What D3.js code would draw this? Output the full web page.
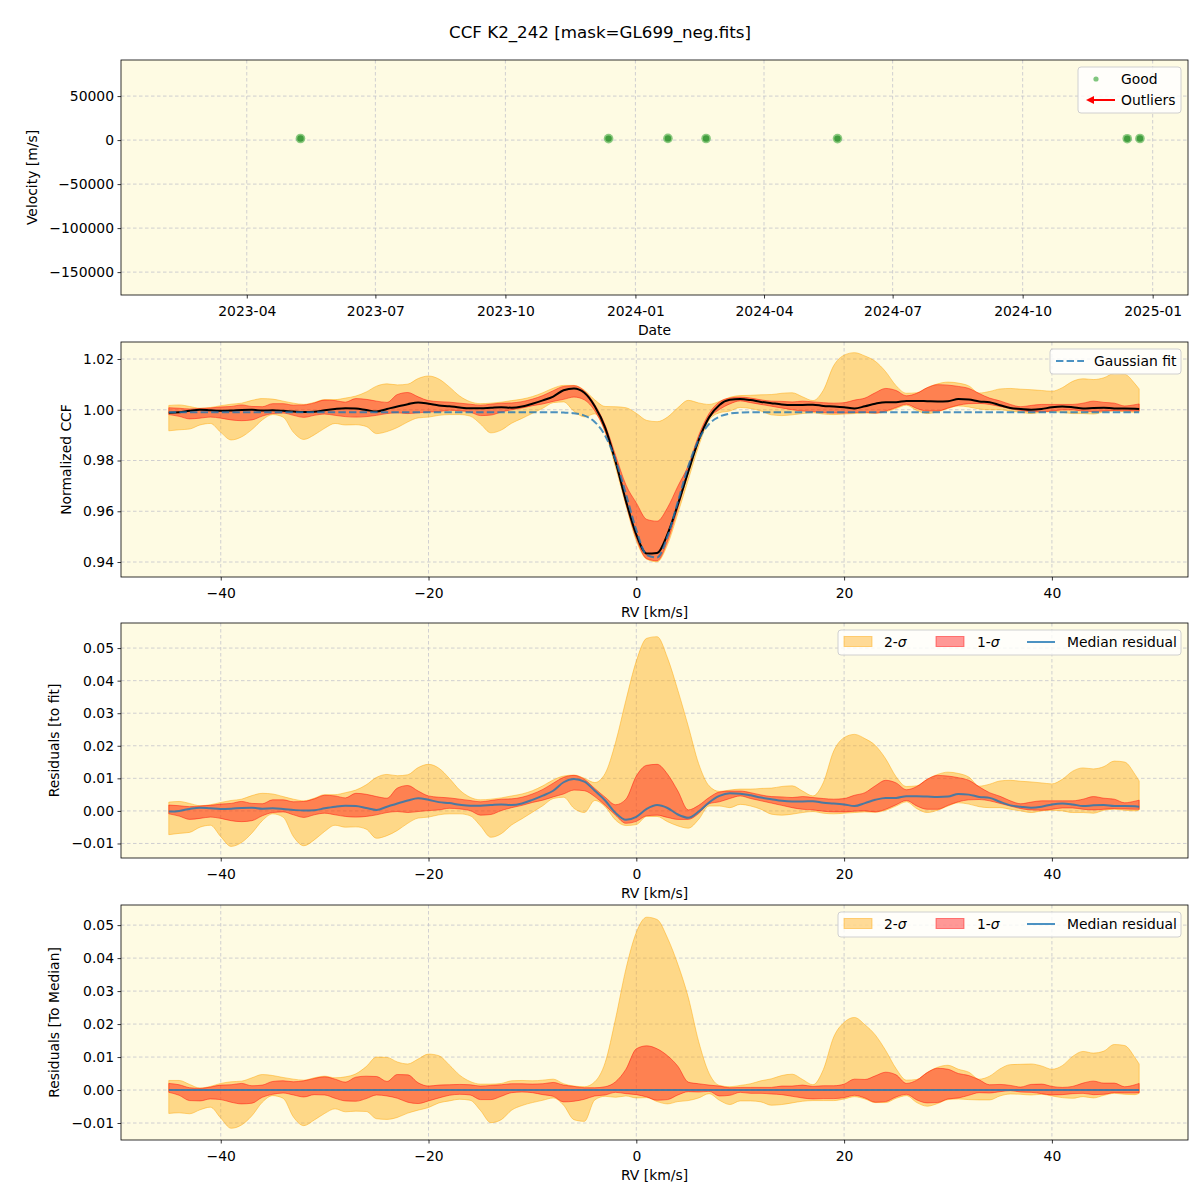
<!DOCTYPE html>
<html><head><meta charset="utf-8">
<script src="https://cdn.jsdelivr.net/npm/d3@7/dist/d3.min.js"></script>
<style>
body{margin:0;background:#fff;}
svg text{font-family:"DejaVu Sans",Verdana,sans-serif;fill:#000;}
</style></head>
<body>
<svg id="chart" width="1200" height="1200"></svg>
<script>
// ---------------- data ----------------
const obsDates = ["2023-05-09","2023-12-13","2024-01-24","2024-02-20","2024-05-23","2024-12-14","2024-12-23"];
const obsVelocity = [1800,1700,1900,1800,1700,1600,1800];
const dateTicks = ["2023-04-01","2023-07-01","2023-10-01","2024-01-01","2024-04-01","2024-07-01","2024-10-01","2025-01-01"];
const velocityTicks = [-150000,-100000,-50000,0,50000];
const rvTicks = [-40,-20,0,20,40];
const ccfTicks = [0.94,0.96,0.98,1.00,1.02];
const residTicks = [-0.01,0,0.01,0.02,0.03,0.04,0.05];

const rvGrid = [-45,-44,-43,-42,-41,-40,-39,-38,-37,-36,
 -35,-34,-33,-32,-31,-30,-29,-28,-27,-26,
 -25,-24,-23,-22,-21,-20,-19,-18,-17,-16,
 -15,-14,-13,-12,-11,-10,-9,-8,-7,-6,
 -5,-4,-3,-2,-1,0,1,2,3,4,
 5,6,7,8,9,10,11,12,13,14,
 15,16,17,18,19,20,21,22,23,24,
 25,26,27,28,29,30,31,32,33,34,
 35,36,37,38,39,40,41,42,43,44,
 45,46,47,48,48.4];

// Gaussian fit of the CCF
const gaussFit = [0.9990,0.9990,0.9990,0.9990,0.9990,0.9990,0.9990,0.9990,0.9990,0.9990,
 0.9990,0.9990,0.9990,0.9990,0.9990,0.9990,0.9990,0.9990,0.9990,0.9990,
 0.9990,0.9990,0.9990,0.9990,0.9990,0.9990,0.9990,0.9990,0.9990,0.9990,
 0.9990,0.9990,0.9990,0.9990,0.9990,0.9990,0.9990,0.9990,0.9989,0.9986,
 0.9977,0.9952,0.9898,0.9802,0.9668,0.9526,0.9428,0.9418,0.9501,0.9638,
 0.9777,0.9882,0.9944,0.9973,0.9985,0.9989,0.9990,0.9990,0.9990,0.9990,
 0.9990,0.9990,0.9990,0.9990,0.9990,0.9990,0.9990,0.9990,0.9990,0.9990,
 0.9990,0.9990,0.9990,0.9990,0.9990,0.9990,0.9990,0.9990,0.9990,0.9990,
 0.9990,0.9990,0.9990,0.9990,0.9990,0.9990,0.9990,0.9990,0.9990,0.9990,
 0.9990,0.9990,0.9990,0.9990,0.9990];

// Residuals to the fit: median and percentile bands
const medResid = [-0.0002,0.0000,0.0006,0.0010,0.0008,0.0006,0.0007,0.0009,0.0010,0.0007,
 0.0008,0.0006,0.0003,0.0001,0.0002,0.0008,0.0013,0.0016,0.0015,0.0009,
 0.0003,0.0013,0.0023,0.0032,0.0039,0.0034,0.0027,0.0024,0.0019,0.0016,
 0.0016,0.0018,0.0020,0.0018,0.0023,0.0034,0.0047,0.0062,0.0088,0.0098,
 0.0090,0.0062,0.0032,-0.0006,-0.0027,-0.0018,0.0006,0.0018,0.0009,-0.0011,
 -0.0021,-0.0002,0.0026,0.0046,0.0054,0.0053,0.0048,0.0041,0.0036,0.0031,
 0.0029,0.0029,0.0030,0.0025,0.0023,0.0020,0.0015,0.0024,0.0034,0.0040,
 0.0040,0.0045,0.0045,0.0044,0.0043,0.0044,0.0052,0.0050,0.0043,0.0040,
 0.0028,0.0017,0.0013,0.0010,0.0013,0.0020,0.0023,0.0020,0.0015,0.0017,
 0.0018,0.0015,0.0015,0.0014,0.0013];

const sig1Hi = [0.0018,0.0016,0.0013,0.0015,0.0017,0.0021,0.0023,0.0029,0.0023,0.0022,
 0.0034,0.0034,0.0028,0.0029,0.0037,0.0048,0.0046,0.0040,0.0054,0.0051,
 0.0044,0.0039,0.0070,0.0078,0.0061,0.0046,0.0042,0.0040,0.0036,0.0032,
 0.0028,0.0032,0.0036,0.0037,0.0042,0.0052,0.0066,0.0085,0.0103,0.0109,
 0.0097,0.0069,0.0042,0.0019,0.0036,0.0107,0.0140,0.0143,0.0113,0.0061,
 0.0003,0.0017,0.0041,0.0058,0.0061,0.0061,0.0056,0.0049,0.0044,0.0043,
 0.0041,0.0044,0.0041,0.0038,0.0036,0.0038,0.0048,0.0056,0.0077,0.0094,
 0.0086,0.0065,0.0075,0.0097,0.0109,0.0107,0.0102,0.0094,0.0074,0.0056,
 0.0045,0.0031,0.0022,0.0027,0.0031,0.0031,0.0031,0.0031,0.0036,0.0044,
 0.0039,0.0036,0.0025,0.0030,0.0033];

const sig1Lo = [-0.0009,-0.0016,-0.0026,-0.0023,-0.0019,-0.0023,-0.0030,-0.0033,-0.0030,-0.0015,
 -0.0005,-0.0003,-0.0012,-0.0020,-0.0012,-0.0007,-0.0012,-0.0017,-0.0019,-0.0017,
 -0.0012,-0.0005,-0.0002,-0.0005,-0.0002,0.0001,0.0003,0.0008,0.0006,0.0001,
 -0.0013,-0.0011,0.0001,0.0010,0.0017,0.0026,0.0033,0.0043,0.0052,0.0064,
 0.0062,0.0044,0.0017,-0.0013,-0.0038,-0.0032,-0.0015,-0.0013,-0.0020,-0.0026,
 -0.0026,-0.0008,0.0022,0.0028,0.0038,0.0046,0.0038,0.0031,0.0024,0.0017,
 0.0010,0.0005,0.0003,-0.0001,-0.0003,-0.0003,-0.0001,0.0000,-0.0003,0.0005,
 0.0019,0.0032,0.0015,0.0005,0.0005,0.0017,0.0028,0.0034,0.0035,0.0031,
 0.0023,0.0015,0.0007,0.0003,0.0002,0.0005,0.0009,0.0009,0.0005,0.0003,
 0.0005,0.0007,0.0006,0.0005,0.0005];

const sig2Hi = [0.0027,0.0029,0.0023,0.0016,0.0019,0.0026,0.0032,0.0036,0.0047,0.0054,
 0.0052,0.0044,0.0036,0.0031,0.0039,0.0050,0.0050,0.0056,0.0064,0.0080,
 0.0103,0.0112,0.0108,0.0111,0.0133,0.0143,0.0131,0.0100,0.0064,0.0042,
 0.0034,0.0036,0.0040,0.0046,0.0052,0.0062,0.0077,0.0095,0.0107,0.0110,
 0.0100,0.0087,0.0115,0.0210,0.0340,0.0460,0.0530,0.0535,0.0470,0.0370,
 0.0260,0.0145,0.0077,0.0060,0.0064,0.0067,0.0067,0.0069,0.0070,0.0075,
 0.0077,0.0061,0.0046,0.0087,0.0184,0.0225,0.0235,0.0222,0.0201,0.0160,
 0.0105,0.0075,0.0077,0.0097,0.0112,0.0119,0.0115,0.0104,0.0076,0.0082,
 0.0092,0.0094,0.0091,0.0089,0.0086,0.0083,0.0097,0.0122,0.0132,0.0129,
 0.0136,0.0153,0.0150,0.0112,0.0092];

const sig2Lo = [-0.0073,-0.0069,-0.0066,-0.0050,-0.0044,-0.0079,-0.0109,-0.0097,-0.0068,-0.0030,
 -0.0009,-0.0019,-0.0079,-0.0107,-0.0089,-0.0063,-0.0044,-0.0050,-0.0049,-0.0056,
 -0.0084,-0.0076,-0.0060,-0.0038,-0.0022,-0.0019,-0.0012,-0.0009,-0.0009,-0.0015,
 -0.0046,-0.0081,-0.0070,-0.0043,-0.0024,-0.0004,0.0016,0.0038,0.0042,0.0008,
 -0.0005,0.0032,0.0013,-0.0028,-0.0045,-0.0042,-0.0017,-0.0017,-0.0033,-0.0046,
 -0.0053,-0.0026,0.0015,0.0015,0.0010,0.0020,0.0015,0.0005,-0.0010,-0.0013,
 -0.0010,-0.0005,-0.0002,-0.0007,-0.0009,-0.0007,-0.0005,-0.0003,-0.0004,0.0002,
 0.0015,0.0028,0.0007,-0.0005,0.0002,0.0015,0.0025,0.0021,0.0013,0.0010,
 0.0010,0.0005,0.0000,-0.0005,0.0000,0.0002,0.0000,-0.0005,-0.0005,-0.0007,
 0.0002,0.0005,0.0002,0.0000,0.0003];

// ---------------- derived series ----------------
const add = (a,b)=>a.map((v,i)=>v+b[i]);
const sub = (a,b)=>a.map((v,i)=>v-b[i]);
const ccfMedian = add(gaussFit, medResid);
const ccf1Lo = add(gaussFit, sig1Lo), ccf1Hi = add(gaussFit, sig1Hi);
const ccf2Lo = add(gaussFit, sig2Lo), ccf2Hi = add(gaussFit, sig2Hi);
const med1Lo = sub(sig1Lo, medResid), med1Hi = sub(sig1Hi, medResid);
const med2Lo = sub(sig2Lo, medResid), med2Hi = sub(sig2Hi, medResid);
const zeroLine = rvGrid.map(()=>0);

// ---------------- layout ----------------
const svg = d3.select("#chart");
const L = 121, R = 1188;
const BG = "#fefbe3";
const FS = 13.9;
const BLUE = "#1f77b4";

svg.append("rect").attr("width",1200).attr("height",1200).attr("fill","#fff");

svg.append("text").attr("x",600).attr("y",38).attr("text-anchor","middle")
  .attr("font-size",16.7).text("CCF K2_242 [mask=GL699_neg.fits]");

function frameBg(top,bottom){
  svg.append("rect").attr("x",L).attr("y",top).attr("width",R-L).attr("height",bottom-top).attr("fill",BG);
}
function frameBorder(top,bottom){
  svg.append("rect").attr("x",L).attr("y",top).attr("width",R-L).attr("height",bottom-top)
    .attr("fill","none").attr("stroke","#000").attr("stroke-width",0.8);
}
function grid(xs, ys, x, y, top, bottom){
  const g = svg.append("g").attr("stroke","#c4c4cc").attr("stroke-width",0.8).attr("stroke-dasharray","3.5,2.5");
  xs.forEach(v=>g.append("line").attr("x1",x(v)).attr("x2",x(v)).attr("y1",top).attr("y2",bottom));
  ys.forEach(v=>g.append("line").attr("x1",L).attr("x2",R).attr("y1",y(v)).attr("y2",y(v)));
}
function axes(x, y, xs, ys, xFmt, yFmt, bottom){
  const ax = svg.append("g").attr("transform",`translate(0,${bottom})`)
    .call(d3.axisBottom(x).tickValues(xs).tickFormat(xFmt).tickSize(3.5).tickPadding(7.5).tickSizeOuter(0));
  const ay = svg.append("g").attr("transform",`translate(${L},0)`)
    .call(d3.axisLeft(y).tickValues(ys).tickFormat(yFmt).tickSize(3.5).tickPadding(3.5).tickSizeOuter(0));
  [ax,ay].forEach(a=>{
    a.select(".domain").remove();
    a.selectAll("line").attr("stroke","#000").attr("stroke-width",0.8);
    a.selectAll("text").attr("font-size",FS).attr("font-family","DejaVu Sans").attr("fill","#000");
  });
}
function ylabel(txt, cx, cy){
  svg.append("text").attr("transform",`translate(${cx+5},${cy}) rotate(-90)`)
    .attr("text-anchor","middle").attr("font-size",FS).text(txt);
}
function xlabel(txt, cy){
  svg.append("text").attr("x",(L+R)/2).attr("y",cy).attr("text-anchor","middle")
    .attr("font-size",FS).text(txt);
}

// ---------------- panel 1 ----------------
{
  const top=60, bottom=295;
  const x = d3.scaleUtc().domain([new Date("2023-01-02T00:00:00Z"), new Date("2025-01-26T00:00:00Z")]).range([L,R]);
  const y = d3.scaleLinear().domain([-176000, 91000]).range([bottom, top]);
  const xt = dateTicks.map(d=>new Date(d+"T00:00:00Z"));
  frameBg(top,bottom);
  grid(xt, velocityTicks, x, y, top, bottom);
  const pts = svg.append("g");
  obsDates.forEach((d,i)=>{
    const cx = x(new Date(d+"T00:00:00Z")), cy = y(obsVelocity[i]);
    pts.append("circle").attr("cx",cx).attr("cy",cy).attr("r",4.8).attr("fill","#2ca02c").attr("fill-opacity",0.55);
    pts.append("circle").attr("cx",cx).attr("cy",cy).attr("r",3.2).attr("fill","#2a8f2a").attr("fill-opacity",0.75);
  });
  frameBorder(top,bottom);
  axes(x, y, xt, velocityTicks, d3.utcFormat("%Y-%m"), d3.format("d"), bottom);
  ylabel("Velocity [m/s]", 32, (top+bottom)/2);
  xlabel("Date", 335);
  // legend
  const lg = svg.append("g");
  lg.append("rect").attr("x",1078).attr("y",67).attr("width",103).attr("height",46).attr("rx",3)
    .attr("fill","#fff").attr("fill-opacity",0.8).attr("stroke","#d0d0d0");
  lg.append("circle").attr("cx",1096).attr("cy",79).attr("r",2.6).attr("fill","#2ca02c").attr("fill-opacity",0.6);
  lg.append("text").attr("x",1121).attr("y",84).attr("font-size",FS).text("Good");
  lg.append("line").attr("x1",1115).attr("x2",1093).attr("y1",100).attr("y2",100).attr("stroke","red").attr("stroke-width",2);
  lg.append("path").attr("d","M1086,100 L1094,96 L1094,104 Z").attr("fill","red");
  lg.append("text").attr("x",1121).attr("y",105).attr("font-size",FS).text("Outliers");
}

// ---------------- RV panels ----------------
const xRV = d3.scaleLinear().domain([-49.6, 53.1]).range([L,R]);

function band(y, lo, hi, fill, stroke){
  const area = d3.area().x((d,i)=>xRV(rvGrid[i])).y0(d=>y(d[0])).y1(d=>y(d[1])).curve(d3.curveMonotoneX);
  svg.append("path").datum(lo.map((v,i)=>[v,hi[i]])).attr("d",area)
    .attr("fill",fill).attr("fill-opacity",0.4).attr("stroke",stroke).attr("stroke-opacity",0.45).attr("stroke-width",1);
}
function curve(y, vals, color, width, opacity, dash){
  const line = d3.line().x((d,i)=>xRV(rvGrid[i])).y(d=>y(d)).curve(d3.curveMonotoneX);
  const p = svg.append("path").datum(vals).attr("d",line).attr("fill","none")
    .attr("stroke",color).attr("stroke-width",width).attr("stroke-opacity",opacity);
  if(dash) p.attr("stroke-dasharray",dash);
}
function sigmaLegend(top){
  const g = svg.append("g");
  const y0 = top+7;
  g.append("rect").attr("x",838).attr("y",y0).attr("width",343).attr("height",25).attr("rx",3)
    .attr("fill","#fff").attr("fill-opacity",0.8).attr("stroke","#d0d0d0");
  g.append("rect").attr("x",844).attr("y",y0+6.5).attr("width",28).attr("height",10)
    .attr("fill","orange").attr("fill-opacity",0.4).attr("stroke","orange").attr("stroke-opacity",0.45);
  const t1 = g.append("text").attr("x",884).attr("y",y0+17).attr("font-size",FS);
  t1.append("tspan").text("2-"); t1.append("tspan").attr("font-style","italic").text("σ");
  g.append("rect").attr("x",936).attr("y",y0+6.5).attr("width",28).attr("height",10)
    .attr("fill","red").attr("fill-opacity",0.4).attr("stroke","red").attr("stroke-opacity",0.45);
  const t2 = g.append("text").attr("x",977).attr("y",y0+17).attr("font-size",FS);
  t2.append("tspan").text("1-"); t2.append("tspan").attr("font-style","italic").text("σ");
  g.append("line").attr("x1",1027).attr("x2",1055).attr("y1",y0+12).attr("y2",y0+12)
    .attr("stroke",BLUE).attr("stroke-opacity",0.8).attr("stroke-width",2);
  g.append("text").attr("x",1067).attr("y",y0+17).attr("font-size",FS).text("Median residual");
}

// panel 2
{
  const top=342, bottom=577;
  const y = d3.scaleLinear().domain([0.9341, 1.0267]).range([bottom, top]);
  frameBg(top,bottom);
  grid(rvTicks, ccfTicks, xRV, y, top, bottom);
  band(y, ccf2Lo, ccf2Hi, "orange", "orange");
  band(y, ccf1Lo, ccf1Hi, "red", "red");
  curve(y, ccfMedian, "#000", 2, 1, null);
  curve(y, gaussFit, BLUE, 2, 0.8, "7.4,3.2");
  frameBorder(top,bottom);
  axes(xRV, y, rvTicks, ccfTicks, d3.format("d"), d3.format(".2f"), bottom);
  ylabel("Normalized CCF", 66, (top+bottom)/2);
  xlabel("RV [km/s]", 617);
  const g = svg.append("g");
  g.append("rect").attr("x",1050).attr("y",349).attr("width",131).attr("height",25).attr("rx",3)
    .attr("fill","#fff").attr("fill-opacity",0.8).attr("stroke","#d0d0d0");
  g.append("line").attr("x1",1056).attr("x2",1084).attr("y1",361).attr("y2",361)
    .attr("stroke",BLUE).attr("stroke-opacity",0.8).attr("stroke-width",2).attr("stroke-dasharray","7.4,3.2");
  g.append("text").attr("x",1094).attr("y",366).attr("font-size",FS).text("Gaussian fit");
}

// panel 3
{
  const top=623, bottom=858;
  const y = d3.scaleLinear().domain([-0.01446, 0.0577]).range([bottom, top]);
  frameBg(top,bottom);
  grid(rvTicks, residTicks, xRV, y, top, bottom);
  band(y, sig2Lo, sig2Hi, "orange", "orange");
  band(y, sig1Lo, sig1Hi, "red", "red");
  curve(y, medResid, BLUE, 2, 0.8, null);
  frameBorder(top,bottom);
  axes(xRV, y, rvTicks, residTicks, d3.format("d"), d3.format(".2f"), bottom);
  ylabel("Residuals [to fit]", 54, (top+bottom)/2);
  xlabel("RV [km/s]", 898);
  sigmaLegend(top);
}

// panel 4
{
  const top=905, bottom=1140;
  const y = d3.scaleLinear().domain([-0.01515, 0.0561]).range([bottom, top]);
  frameBg(top,bottom);
  grid(rvTicks, residTicks, xRV, y, top, bottom);
  band(y, med2Lo, med2Hi, "orange", "orange");
  band(y, med1Lo, med1Hi, "red", "red");
  curve(y, zeroLine, BLUE, 2, 0.8, null);
  frameBorder(top,bottom);
  axes(xRV, y, rvTicks, residTicks, d3.format("d"), d3.format(".2f"), bottom);
  ylabel("Residuals [To Median]", 54, (top+bottom)/2);
  xlabel("RV [km/s]", 1180);
  sigmaLegend(top);
}
</script>
</body></html>
